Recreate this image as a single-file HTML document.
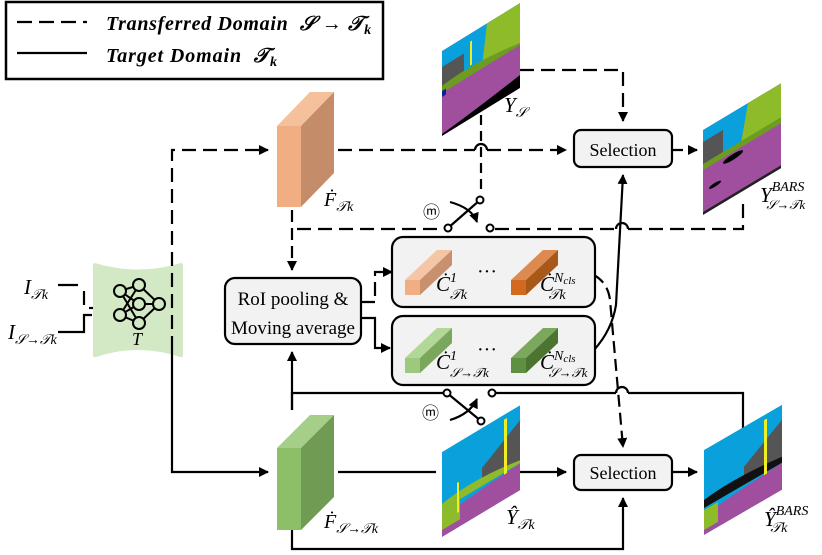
<!DOCTYPE html>
<html><head><meta charset="utf-8"><style>
html,body{margin:0;padding:0;background:#fff}
svg{display:block}
.m{font-family:"Liberation Serif",serif;font-style:italic}
.t{font-family:"Liberation Serif",serif}
</style></head><body>
<svg width="822" height="555" viewBox="0 0 822 555" xmlns="http://www.w3.org/2000/svg">
<defs>
<marker id="a" markerWidth="10" markerHeight="10" refX="9" refY="5" orient="auto" markerUnits="userSpaceOnUse"><path d="M0,0 L10,5 L0,10z" fill="#000"/></marker>
<clipPath id="cp"><rect x="0" y="0" width="78" height="85"/></clipPath>
</defs>
<g fill="none" stroke="#000" stroke-width="2.2">
<rect x="6" y="2" width="377" height="77" stroke-width="2.5"/>
<line x1="17" y1="22" x2="87" y2="22" stroke-dasharray="15,7"/>
<line x1="17" y1="53" x2="87" y2="53"/>
</g>
<text x="106" y="30" class="m" font-size="20" font-weight="bold" letter-spacing="0.7">Transferred Domain&#160; 𝒮 → 𝒯<tspan font-size="14" dy="4">k</tspan></text>
<text x="106" y="62" class="m" font-size="20" font-weight="bold" letter-spacing="0.9">Target Domain&#160; 𝒯<tspan font-size="14" dy="4">k</tspan></text>

<path d="M95,263 Q138,276 181,263 Q183,263 183,266 L183,355 Q183,358 180,357 Q138,343 96,357 Q93,358 93,355 L93,266 Q93,263 95,263z" fill="#d3e8c4"/>
<g stroke="#000" stroke-width="2" fill="none">
<line x1="120" y1="291" x2="139" y2="285"/><line x1="120" y1="291" x2="139" y2="304"/><line x1="120" y1="291" x2="139" y2="323"/>
<line x1="120" y1="315" x2="139" y2="285"/><line x1="120" y1="315" x2="139" y2="304"/><line x1="120" y1="315" x2="139" y2="323"/>
<line x1="139" y1="285" x2="159" y2="304"/><line x1="139" y1="304" x2="159" y2="304"/><line x1="139" y1="323" x2="159" y2="304"/>
<g fill="#d3e8c4"><circle cx="120" cy="291" r="6"/><circle cx="120" cy="315" r="6"/><circle cx="139" cy="285" r="6"/><circle cx="139" cy="304" r="6"/><circle cx="139" cy="323" r="6"/><circle cx="159" cy="304" r="6"/></g>
</g>
<text x="132" y="345" class="m" font-size="18">T</text>
<text x="24" y="294" class="m" font-size="21">I<tspan font-size="14" dy="5">𝒯k</tspan></text>
<text x="8" y="339" class="m" font-size="21">I<tspan font-size="14" dy="5">𝒮→𝒯k</tspan></text>
<g fill="none" stroke="#000" stroke-width="2.2">
<polyline points="58,285 78,285"/>
<line x1="84" y1="291" x2="84" y2="305" />
<polyline points="58,332 84,332 84,315 92,315"/>
<line x1="89" y1="308" x2="93" y2="308"/>
</g>

<polygon points="277,126 310,92 334,92 301,126" fill="#f5c19c"/>
<polygon points="301,126 334,92 334,173 301,207" fill="#c48c68"/>
<rect x="277" y="126" width="24" height="81" fill="#f0ae82"/>
<text x="324" y="206" class="m" font-size="20">Ḟ<tspan font-size="14" dy="5">𝒯k</tspan></text>
<polygon points="277,448 310,415 334,415 301,448" fill="#a5cf88"/>
<polygon points="301,448 334,415 334,497 301,530" fill="#6f9c52"/>
<rect x="277" y="448" width="24" height="82" fill="#8dbf68"/>
<text x="324" y="528" class="m" font-size="20">Ḟ<tspan font-size="14" dy="5">𝒮→𝒯k</tspan></text>

<g fill="none" stroke="#000" stroke-width="2.2">
<polyline points="172,350 172,150 268,150" stroke-dasharray="14,7" marker-end="url(#a)"/>
<polyline points="172,350 172,472 268,472" marker-end="url(#a)"/>
<line x1="338" y1="150" x2="475" y2="150" stroke-dasharray="14,7"/>
<path d="M475,150 A6,6 0 0 1 487,150"/>
<line x1="487" y1="150" x2="566" y2="150" stroke-dasharray="14,7" marker-end="url(#a)"/>
<polyline points="520,70 623,70 623,121" stroke-dasharray="14,7" marker-end="url(#a)"/>
<line x1="481" y1="115" x2="481" y2="194" stroke-dasharray="10,6"/>
<line x1="673" y1="150" x2="697" y2="150" stroke-dasharray="10,6" marker-end="url(#a)"/>
<line x1="292" y1="210" x2="292" y2="270" stroke-dasharray="12,6" marker-end="url(#a)"/>
<line x1="297" y1="229" x2="444" y2="229" stroke-dasharray="14,7"/>
<polyline points="495,229 616,229" stroke-dasharray="14,7"/>
<path d="M616,229 A6,6 0 0 1 628,229"/>
<polyline points="628,229 743,229 743,202" stroke-dasharray="14,7"/>
<line x1="448" y1="228" x2="480" y2="200"/>
<path d="M450,202 Q472,208 477,222" marker-end="url(#a)"/>
<polyline points="361,302 375,302 375,272 384,272" stroke-dasharray="14,6"/>
<path d="M384,272 L392,272" marker-end="url(#a)"/>
<polyline points="361,318 375,318 375,348 390,348" marker-end="url(#a)"/>
<line x1="292" y1="410" x2="292" y2="352" marker-end="url(#a)"/>
<polyline points="292,410 292,393 444,393"/>
<polyline points="495,393 616,393"/>
<path d="M616,393 A6,6 0 0 1 628,393"/>
<polyline points="628,393 743,393 743,430"/>
<line x1="447" y1="393" x2="481" y2="421"/>
<path d="M450,420 Q470,414 477,399" marker-end="url(#a)"/>
<polyline points="292,530 292,549 623,549 623,498" marker-end="url(#a)"/>
<line x1="338" y1="472" x2="436" y2="472"/>
<line x1="520" y1="472" x2="566" y2="472" marker-end="url(#a)"/>
<line x1="673" y1="472" x2="697" y2="472" marker-end="url(#a)"/>
<path d="M594,350 Q612,330 616,305 L623,175" marker-end="url(#a)"/>
<path d="M594,275 Q608,283 610,300 L623,447" stroke-dasharray="12,6" marker-end="url(#a)"/>
</g>
<g fill="#fff" stroke="#000" stroke-width="2"><circle cx="448" cy="228" r="3.5"/><circle cx="490" cy="228" r="3.5"/><circle cx="480" cy="200" r="3.5"/><circle cx="447" cy="393" r="3.5"/><circle cx="492" cy="393" r="3.5"/><circle cx="481" cy="421" r="3.5"/></g>
<text x="423" y="218" class="t" font-size="17">ⓜ</text>
<text x="422" y="419" class="t" font-size="17">ⓜ</text>

<g fill="#f2f2f2" stroke="#000" stroke-width="2.2">
<rect x="225" y="278" width="136" height="66" rx="10"/>
<rect x="392" y="237" width="203" height="70" rx="11"/>
<rect x="392" y="316" width="203" height="69" rx="11"/>
<rect x="574" y="130" width="98" height="37" rx="7"/>
<rect x="574" y="455" width="98" height="35" rx="7"/>
</g>
<text x="293" y="305" class="t" font-size="19" text-anchor="middle">RoI pooling &amp;</text>
<text x="293" y="334" class="t" font-size="19" text-anchor="middle">Moving average</text>
<text x="623" y="156" class="t" font-size="18" text-anchor="middle">Selection</text>
<text x="623" y="479" class="t" font-size="18" text-anchor="middle">Selection</text>

<g>
<polygon points="405,280 437,250 452,250 420,280" fill="#f5c6a5"/><polygon points="420,280 452,250 452,265 420,295" fill="#c99070"/><rect x="405" y="280" width="15" height="15" fill="#f0ae82"/>
<polygon points="511,280 543,250 558,250 526,280" fill="#dc8a50"/><polygon points="526,280 558,250 558,265 526,295" fill="#a85818"/><rect x="511" y="280" width="15" height="15" fill="#d2691e"/>
<polygon points="405,358 437,328 452,328 420,358" fill="#b2d898"/><polygon points="420,358 452,328 452,343 420,373" fill="#7aa75c"/><rect x="405" y="358" width="15" height="15" fill="#9cc97c"/>
<polygon points="511,358 543,328 558,328 526,358" fill="#7ba85c"/><polygon points="526,358 558,328 558,343 526,373" fill="#4a7430"/><rect x="511" y="358" width="15" height="15" fill="#5f8f40"/>
</g>
<text x="436" y="291" class="m" font-size="21">Ċ<tspan font-size="14" dy="-9">1</tspan><tspan font-size="14" dx="-7" dy="17">𝒯k</tspan></text>
<text x="540" y="291" class="m" font-size="21">Ċ<tspan font-size="14" dy="-9">N</tspan><tspan font-size="11" dy="2">cls</tspan><tspan font-size="14" dx="-27" dy="15">𝒯k</tspan></text>
<text x="436" y="369" class="m" font-size="21">Ċ<tspan font-size="14" dy="-9">1</tspan><tspan font-size="13" dx="-7" dy="17">𝒮→𝒯k</tspan></text>
<text x="540" y="369" class="m" font-size="21">Ċ<tspan font-size="14" dy="-9">N</tspan><tspan font-size="11" dy="2">cls</tspan><tspan font-size="13" dx="-27" dy="15">𝒮→𝒯k</tspan></text>
<text x="477" y="278" class="t" font-size="20">···</text>
<text x="477" y="356" class="t" font-size="20">···</text>

<g transform="matrix(1,-0.615,0,1,442,51)" clip-path="url(#cp)">
<rect width="78" height="85" fill="#a04f9f"/>
<rect width="78" height="38" fill="#0aa0db"/>
<rect x="0" y="16" width="22" height="25" fill="#555"/>
<path d="M45,0 H78 V40 H40 Z" fill="#8dbb2a"/>
<path d="M0,35 Q30,30 78,40 V42 H0z" fill="#6c9d20"/>
<rect x="0" y="40" width="4" height="6" fill="#1020a0"/>
<path d="M0,85 L0,83 Q30,80 78,72 V85z" fill="#000"/>
<rect x="28" y="8" width="2" height="24" fill="#ee2"/>
</g>
<g transform="matrix(1,-0.6,0,1,703,130)" clip-path="url(#cp)">
<rect width="78" height="85" fill="#a04f9f"/>
<rect width="78" height="36" fill="#0aa0db"/>
<rect x="0" y="12" width="20" height="25" fill="#555"/>
<path d="M45,0 H78 V36 H38 Z" fill="#8dbb2a"/>
<rect x="0" y="34" width="78" height="6" fill="#6c9d20"/>
<ellipse cx="30" cy="45" rx="10" ry="3" fill="#000"/><ellipse cx="12" cy="62" rx="6" ry="2" fill="#000"/>
<rect x="0" y="82" width="78" height="3" fill="#222"/>
</g>
<g transform="matrix(1,-0.6,0,1,442,452)" clip-path="url(#cp)">
<rect width="78" height="85" fill="#0aa0db"/>
<path d="M40,40 L78,15 V55 H40z" fill="#555"/>
<path d="M0,52 Q30,45 78,55 V58 H0z" fill="#8dbb2a"/>
<path d="M0,85 V66 Q20,62 78,58 V85z" fill="#a04f9f"/>
<path d="M0,58 H18 V78 H0z" fill="#8dbb2a"/>
<rect x="62" y="5" width="3" height="55" fill="#ee2"/><rect x="15" y="40" width="2" height="30" fill="#ee2"/>
</g>
<g transform="matrix(1,-0.58,0,1,704,450)" clip-path="url(#cp)">
<rect width="78" height="85" fill="#0aa0db"/>
<path d="M40,40 L78,15 V55 H40z" fill="#555"/>
<path d="M0,50 Q30,45 78,52 V58 H0z" fill="#111"/>
<path d="M0,85 V66 Q20,62 78,58 V85z" fill="#a04f9f"/>
<path d="M0,60 H14 V80 H0z" fill="#8dbb2a"/>
<rect x="60" y="5" width="3" height="55" fill="#ee2"/>
</g>

<text x="504" y="112" class="m" font-size="21">Y<tspan font-size="14" dy="5">𝒮</tspan></text>
<text x="760" y="202" class="m" font-size="21">Y<tspan font-size="14" dy="-11">BARS</tspan><tspan font-size="13" dx="-38" dy="18">𝒮→𝒯k</tspan></text>
<text x="506" y="524" class="m" font-size="21">Ŷ<tspan font-size="14" dy="5">𝒯k</tspan></text>
<text x="764" y="526" class="m" font-size="21">Ŷ<tspan font-size="14" dy="-11">BARS</tspan><tspan font-size="14" dx="-38" dy="17">𝒯k</tspan></text>
</svg>
</body></html>
